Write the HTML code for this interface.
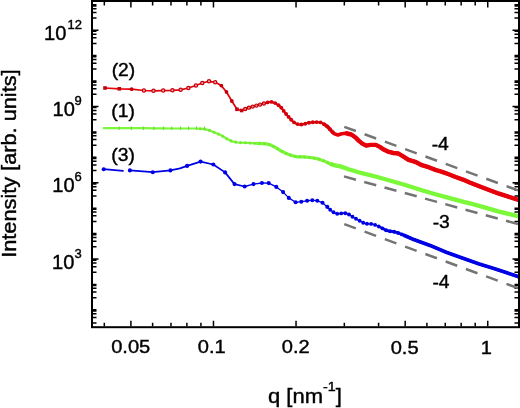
<!DOCTYPE html>
<html><head><meta charset="utf-8"><style>html,body{margin:0;padding:0;background:#fff;overflow:hidden}svg{display:block;filter:blur(0.3px)}</style></head>
<body>
<svg width="520" height="408" viewBox="0 0 520 408">
<defs><clipPath id="clip"><rect x="93" y="2" width="425" height="324.2"/></clipPath></defs>
<rect width="520" height="408" fill="#fff"/>
<rect x="92" y="1" width="427" height="326.2" fill="none" stroke="#000" stroke-width="2"/>
<path d="M130.90 326.2v-5.5M130.90 2v5.5M213.47 326.2v-5.5M213.47 2v5.5M296.04 326.2v-5.5M296.04 2v5.5M405.18 326.2v-5.5M405.18 2v5.5M487.75 326.2v-5.5M487.75 2v5.5M104.32 326.2v-3.5M104.32 2v3.5M152.62 326.2v-3.5M152.62 2v3.5M170.98 326.2v-3.5M170.98 2v3.5M186.89 326.2v-3.5M186.89 2v3.5M200.92 326.2v-3.5M200.92 2v3.5M344.33 326.2v-3.5M344.33 2v3.5M378.60 326.2v-3.5M378.60 2v3.5M426.90 326.2v-3.5M426.90 2v3.5M445.26 326.2v-3.5M445.26 2v3.5M461.17 326.2v-3.5M461.17 2v3.5M475.20 326.2v-3.5M475.20 2v3.5" stroke="#000" stroke-width="1.5" fill="none"/>
<path d="M93 323.11h3.5M518 323.11h-3.5M93 317.47h3.5M518 317.47h-3.5M93 313.76h3.5M518 313.76h-3.5M93 310.98h3.5M518 310.98h-3.5M93 309.82h3.5M518 309.82h-3.5M93 297.69h3.5M518 297.69h-3.5M93 292.05h3.5M518 292.05h-3.5M93 288.34h3.5M518 288.34h-3.5M93 285.56h3.5M518 285.56h-3.5M93 284.40h3.5M518 284.40h-3.5M93 272.27h3.5M518 272.27h-3.5M93 266.63h3.5M518 266.63h-3.5M93 262.92h3.5M518 262.92h-3.5M93 260.14h3.5M518 260.14h-3.5M93 258.98h5.5M518 258.98h-5.5M93 246.85h3.5M518 246.85h-3.5M93 241.21h3.5M518 241.21h-3.5M93 237.50h3.5M518 237.50h-3.5M93 234.72h3.5M518 234.72h-3.5M93 233.56h3.5M518 233.56h-3.5M93 221.43h3.5M518 221.43h-3.5M93 215.79h3.5M518 215.79h-3.5M93 212.08h3.5M518 212.08h-3.5M93 209.30h3.5M518 209.30h-3.5M93 208.14h3.5M518 208.14h-3.5M93 196.01h3.5M518 196.01h-3.5M93 190.37h3.5M518 190.37h-3.5M93 186.66h3.5M518 186.66h-3.5M93 183.88h3.5M518 183.88h-3.5M93 182.72h5.5M518 182.72h-5.5M93 170.59h3.5M518 170.59h-3.5M93 164.95h3.5M518 164.95h-3.5M93 161.24h3.5M518 161.24h-3.5M93 158.46h3.5M518 158.46h-3.5M93 157.30h3.5M518 157.30h-3.5M93 145.17h3.5M518 145.17h-3.5M93 139.53h3.5M518 139.53h-3.5M93 135.82h3.5M518 135.82h-3.5M93 133.04h3.5M518 133.04h-3.5M93 131.88h3.5M518 131.88h-3.5M93 119.75h3.5M518 119.75h-3.5M93 114.11h3.5M518 114.11h-3.5M93 110.40h3.5M518 110.40h-3.5M93 107.62h3.5M518 107.62h-3.5M93 106.46h5.5M518 106.46h-5.5M93 94.33h3.5M518 94.33h-3.5M93 88.69h3.5M518 88.69h-3.5M93 84.98h3.5M518 84.98h-3.5M93 82.20h3.5M518 82.20h-3.5M93 81.04h3.5M518 81.04h-3.5M93 68.91h3.5M518 68.91h-3.5M93 63.27h3.5M518 63.27h-3.5M93 59.56h3.5M518 59.56h-3.5M93 56.78h3.5M518 56.78h-3.5M93 55.62h3.5M518 55.62h-3.5M93 43.49h3.5M518 43.49h-3.5M93 37.85h3.5M518 37.85h-3.5M93 34.14h3.5M518 34.14h-3.5M93 31.36h3.5M518 31.36h-3.5M93 30.20h5.5M518 30.20h-5.5M93 18.07h3.5M518 18.07h-3.5M93 12.43h3.5M518 12.43h-3.5M93 8.72h3.5M518 8.72h-3.5M93 5.94h3.5M518 5.94h-3.5M93 4.78h3.5M518 4.78h-3.5" stroke="#000" stroke-width="1.5" fill="none"/>
<g clip-path="url(#clip)">
<line x1="344.3" y1="126.80" x2="530" y2="194.77" stroke="#747474" stroke-width="2.5" stroke-dasharray="12.3 9.3"/>
<line x1="344.0" y1="176.40" x2="530" y2="227.36" stroke="#747474" stroke-width="2.5" stroke-dasharray="12.4 8.6"/>
<line x1="344.3" y1="224.20" x2="530" y2="292.54" stroke="#747474" stroke-width="2.5" stroke-dasharray="12.3 9.3"/>
</g>
<g clip-path="url(#clip)" fill="none" stroke-linejoin="round" stroke-linecap="round">
<path d="M105.0 88.0L119.3 88.8L131.6 89.2L143.9 90.5L153.5 90.8L163.2 90.6L172.4 90.3L180.6 89.8L188.4 88.0L195.9 85.5L202.3 83.0L209.0 81.3L215.2 82.3L221.3 85.6L226.5 92.0L231.8 101.0L237.0 109.3L241.6 110.5L246.8 108.3L251.4 106.9L256.5 105.6L259.5 104.8L263.7 103.5L267.8 102.4L271.2 101.8L275.2 103.1L279.0 105.5L282.3 108.8L285.3 113.1L288.6 116.9L292.0 120.7L295.4 123.4L299.4 124.7L303.5 124.3L307.5 123.0L311.5 122.3L316.3 122.1L320.6 122.4L324.4 124.4L328.3 127.3L331.2 130.7L334.0 133.6L337.9 135.0L341.7 133.8L346.5 133.3L351.3 134.5L355.6 137.5L358.9 140.9L362.3 143.6L366.3 145.6L370.4 144.9L375.8 144.9L379.8 146.9L383.8 149.6L387.9 151.6L393.3 153.0L398.4 153.5L403.1 156.4L408.5 159.8L415.2 161.8L421.9 165.2L428.6 167.2L435.4 169.9L442.1 171.9L448.8 174.3L455.6 177.0L463.6 179.8L469.7 182.5L484.4 188.2L499.1 193.7L516.0 199.1L522.0 201.0" stroke="#e6000a" stroke-width="1.7"/>
<path d="M246.8 108.3L251.4 106.9L256.5 105.6L259.5 104.8L263.7 103.5L267.8 102.4L271.2 101.8L275.2 103.1L279.0 105.5L282.3 108.8L285.3 113.1L288.6 116.9L292.0 120.7L295.4 123.4L299.4 124.7L303.5 124.3L307.5 123.0L311.5 122.3L316.3 122.1L320.6 122.4L324.4 124.4L328.3 127.3L331.2 130.7L334.0 133.6L337.9 135.0L341.7 133.8L346.5 133.3L351.3 134.5L355.6 137.5L358.9 140.9L362.3 143.6L366.3 145.6L370.4 144.9L375.8 144.9L379.8 146.9L383.8 149.6L387.9 151.6L393.3 153.0L398.4 153.5L403.1 156.4L408.5 159.8L415.2 161.8L421.9 165.2L428.6 167.2L435.4 169.9L442.1 171.9L448.8 174.3L455.6 177.0L463.6 179.8L469.7 182.5L484.4 188.2L499.1 193.7L516.0 199.1L522.0 201.0" stroke="#e6000a" stroke-width="1.8"/>
<path d="M324.4 124.4L328.3 127.3L331.2 130.7L334.0 133.6L337.9 135.0L341.7 133.8L346.5 133.3L351.3 134.5L355.6 137.5L358.9 140.9L362.3 143.6L366.3 145.6L370.4 144.9L375.8 144.9L379.8 146.9L383.8 149.6L387.9 151.6L393.3 153.0L398.4 153.5L403.1 156.4L408.5 159.8L415.2 161.8L421.9 165.2L428.6 167.2L435.4 169.9L442.1 171.9L448.8 174.3L455.6 177.0L463.6 179.8L469.7 182.5L484.4 188.2L499.1 193.7L516.0 199.1L522.0 201.0" stroke="#e6000a" stroke-width="3.6"/>
<path d="M346.5 133.3L351.3 134.5L355.6 137.5L358.9 140.9L362.3 143.6L366.3 145.6L370.4 144.9L375.8 144.9L379.8 146.9L383.8 149.6L387.9 151.6L393.3 153.0L398.4 153.5L403.1 156.4L408.5 159.8L415.2 161.8L421.9 165.2L428.6 167.2L435.4 169.9L442.1 171.9L448.8 174.3L455.6 177.0L463.6 179.8L469.7 182.5L484.4 188.2L499.1 193.7L516.0 199.1L522.0 201.0" stroke="#e6000a" stroke-width="4.4"/>
<path d="M103.8 128.2L119.5 128.2L132.2 128.2L144.0 128.2L154.4 128.3L163.6 128.4L172.4 128.5L181.2 128.5L189.1 128.5L195.4 128.5L203.1 128.8L209.8 130.4L216.5 133.3L221.3 135.2L227.1 139.0L231.9 141.3L237.7 142.5L247.3 142.9L256.9 143.3L266.5 143.8L270.0 144.7L275.4 147.4L280.8 150.8L286.2 153.5L291.5 155.5L296.9 156.8L303.6 156.9L310.4 157.5L317.1 158.6L323.8 160.9L330.6 164.0L336.0 165.6L340.4 166.4L348.5 169.2L361.9 173.2L375.4 176.5L388.8 180.2L403.6 184.5L421.9 190.3L435.4 194.2L448.8 197.8L463.6 201.8L469.7 203.3L484.4 207.4L499.1 211.6L516.0 215.7L522.0 217.3" stroke="#7cf83a" stroke-width="2.2"/>
<path d="M256.9 143.3L266.5 143.8L270.0 144.7L275.4 147.4L280.8 150.8L286.2 153.5L291.5 155.5L296.9 156.8L303.6 156.9L310.4 157.5L317.1 158.6L323.8 160.9L330.6 164.0L336.0 165.6L340.4 166.4L348.5 169.2L361.9 173.2L375.4 176.5L388.8 180.2L403.6 184.5L421.9 190.3L435.4 194.2L448.8 197.8L463.6 201.8L469.7 203.3L484.4 207.4L499.1 211.6L516.0 215.7L522.0 217.3" stroke="#7cf83a" stroke-width="3.2"/>
<path d="M330.6 164.0L336.0 165.6L340.4 166.4L348.5 169.2L361.9 173.2L375.4 176.5L388.8 180.2L403.6 184.5L421.9 190.3L435.4 194.2L448.8 197.8L463.6 201.8L469.7 203.3L484.4 207.4L499.1 211.6L516.0 215.7L522.0 217.3" stroke="#7cf83a" stroke-width="4.3"/>
<path d="M103.7 169.2L123.0 170.9M129.9 170.4L152.8 172.2L170.4 170.4L180.0 168.4L187.1 165.9L200.6 161.6L213.3 164.5L225.1 172.4L234.5 184.1L244.7 186.5" stroke="#0000e4" stroke-width="1.7"/>
<path d="M244.7 186.5L253.5 184.1L261.9 183.0L268.7 183.1L276.3 186.9L283.1 192.1L288.8 197.9L295.6 202.3L301.3 201.7L307.1 200.8L312.3 200.2L317.3 200.8L322.5 202.7L327.3 206.9L331.3 210.8L336.1 213.7L339.4 213.9L343.5 212.9L347.5 213.5L351.5 216.1L354.9 218.2L358.3 220.2L362.3 222.2L365.7 223.9L369.0 223.6L373.1 224.2L377.1 225.6L381.1 227.6L385.2 229.9L389.2 231.2L393.3 231.6L397.3 232.6" stroke="#0000e4" stroke-width="1.3"/>
<path d="M381.1 227.6L385.2 229.9L389.2 231.2L393.3 231.6L397.3 232.6L404.5 235.5L413.8 239.6L430.0 245.4L446.2 252.3L462.3 258.1L478.5 263.8L492.3 268.0L506.2 272.6L522.0 277.8" stroke="#0000e4" stroke-width="2.8"/>
<path d="M404.5 235.5L413.8 239.6L430.0 245.4L446.2 252.3L462.3 258.1L478.5 263.8L492.3 268.0L506.2 272.6L522.0 277.8" stroke="#0000e4" stroke-width="3.7"/>
</g>
<rect x="103.2" y="86.2" width="3.6" height="3.6" fill="#c4000a"/><rect x="117.5" y="87.0" width="3.6" height="3.6" fill="#c4000a"/><circle cx="131.6" cy="89.2" r="1.9" fill="#c4000a"/><circle cx="143.9" cy="90.5" r="1.65" fill="#f4a8a8" stroke="#c4000a" stroke-width="1.2"/><circle cx="153.5" cy="90.8" r="1.65" fill="#f4a8a8" stroke="#c4000a" stroke-width="1.2"/><circle cx="163.2" cy="90.6" r="1.65" fill="#f4a8a8" stroke="#c4000a" stroke-width="1.2"/><circle cx="172.4" cy="90.3" r="1.65" fill="#f4a8a8" stroke="#c4000a" stroke-width="1.2"/><circle cx="180.6" cy="89.8" r="1.65" fill="#f4a8a8" stroke="#c4000a" stroke-width="1.2"/><circle cx="188.4" cy="88" r="1.65" fill="#f4a8a8" stroke="#c4000a" stroke-width="1.2"/><circle cx="195.9" cy="85.5" r="1.65" fill="#f4a8a8" stroke="#c4000a" stroke-width="1.2"/><circle cx="202.3" cy="83" r="1.65" fill="#f4a8a8" stroke="#c4000a" stroke-width="1.2"/><circle cx="209" cy="81.3" r="1.65" fill="#f4a8a8" stroke="#c4000a" stroke-width="1.2"/><circle cx="215.2" cy="82.3" r="1.65" fill="#f4a8a8" stroke="#c4000a" stroke-width="1.2"/><circle cx="221.3" cy="85.6" r="1.9" fill="#c4000a"/><circle cx="226.5" cy="92" r="1.9" fill="#c4000a"/><circle cx="231.8" cy="101" r="1.9" fill="#c4000a"/><rect x="235.2" y="107.5" width="3.6" height="3.6" fill="#c4000a"/><rect x="239.79999999999998" y="108.7" width="3.6" height="3.6" fill="#c4000a"/><circle cx="245.2" cy="109.0" r="1.6" fill="#f08080" stroke="#c4000a" stroke-width="1.15"/><circle cx="248.9" cy="107.7" r="1.6" fill="#f08080" stroke="#c4000a" stroke-width="1.15"/><circle cx="252.6" cy="106.6" r="1.6" fill="#f08080" stroke="#c4000a" stroke-width="1.15"/><circle cx="256.4" cy="105.6" r="1.6" fill="#f08080" stroke="#c4000a" stroke-width="1.15"/><circle cx="260.1" cy="104.6" r="1.6" fill="#f08080" stroke="#c4000a" stroke-width="1.15"/><circle cx="263.9" cy="103.5" r="1.6" fill="#f08080" stroke="#c4000a" stroke-width="1.15"/><circle cx="267.6" cy="102.4" r="1.95" fill="#d4000a"/><circle cx="271.5" cy="101.9" r="1.95" fill="#d4000a"/><circle cx="275.2" cy="103.1" r="1.95" fill="#d4000a"/><circle cx="278.5" cy="105.2" r="1.95" fill="#d4000a"/><circle cx="281.3" cy="107.8" r="1.95" fill="#d4000a"/><circle cx="283.7" cy="110.9" r="1.95" fill="#d4000a"/><circle cx="286.1" cy="114.0" r="1.95" fill="#d4000a"/><circle cx="288.6" cy="116.9" r="1.95" fill="#d4000a"/><circle cx="291.2" cy="119.8" r="1.95" fill="#d4000a"/><circle cx="294.1" cy="122.4" r="1.95" fill="#d4000a"/><circle cx="297.6" cy="124.1" r="1.95" fill="#d4000a"/><circle cx="301.4" cy="124.5" r="1.95" fill="#d4000a"/><circle cx="305.2" cy="123.8" r="1.95" fill="#d4000a"/><circle cx="308.9" cy="122.7" r="1.95" fill="#d4000a"/><circle cx="312.8" cy="122.2" r="1.95" fill="#d4000a"/><circle cx="316.7" cy="122.1" r="1.95" fill="#d4000a"/><circle cx="320.6" cy="122.4" r="1.95" fill="#d4000a"/><circle cx="324.0" cy="124.2" r="1.95" fill="#d4000a"/><circle cx="327.2" cy="126.5" r="1.95" fill="#d4000a"/><circle cx="329.9" cy="129.2" r="1.95" fill="#d4000a"/><circle cx="332.6" cy="132.1" r="1.95" fill="#d4000a"/><circle cx="103.7" cy="169.2" r="2.05" fill="#0000e4"/><circle cx="129.9" cy="170.4" r="2.05" fill="#0000e4"/><circle cx="152.8" cy="172.2" r="2.05" fill="#0000e4"/><circle cx="170.4" cy="170.4" r="2.05" fill="#0000e4"/><circle cx="187.1" cy="165.9" r="2.05" fill="#0000e4"/><circle cx="200.6" cy="161.6" r="2.05" fill="#0000e4"/><circle cx="213.3" cy="164.5" r="2.05" fill="#0000e4"/><circle cx="225.1" cy="172.4" r="2.05" fill="#0000e4"/><circle cx="234.5" cy="184.1" r="2.05" fill="#0000e4"/><circle cx="244.7" cy="186.5" r="2.05" fill="#0000e4"/><circle cx="253.5" cy="184.1" r="2.05" fill="#0000e4"/><circle cx="261.9" cy="183" r="2.05" fill="#0000e4"/><circle cx="268.7" cy="183.1" r="2.05" fill="#0000e4"/><circle cx="276.3" cy="186.9" r="2.05" fill="#0000e4"/><circle cx="283.1" cy="192.1" r="2.05" fill="#0000e4"/><circle cx="288.8" cy="197.9" r="2.05" fill="#0000e4"/><circle cx="295.6" cy="202.3" r="2.05" fill="#0000e4"/><circle cx="301.3" cy="201.7" r="2.05" fill="#0000e4"/><circle cx="307.1" cy="200.8" r="2.05" fill="#0000e4"/><circle cx="312.3" cy="200.2" r="2.05" fill="#0000e4"/><circle cx="317.3" cy="200.8" r="2.05" fill="#0000e4"/><circle cx="322.5" cy="202.7" r="2.05" fill="#0000e4"/><circle cx="327.3" cy="206.9" r="2.05" fill="#0000e4"/><circle cx="330.2" cy="209.8" r="1.95" fill="#0000e4"/><circle cx="333.5" cy="212.2" r="1.95" fill="#0000e4"/><circle cx="337.2" cy="213.8" r="1.95" fill="#0000e4"/><circle cx="341.2" cy="213.4" r="1.95" fill="#0000e4"/><circle cx="345.3" cy="213.2" r="1.95" fill="#0000e4"/><circle cx="349.0" cy="214.5" r="1.95" fill="#0000e4"/><circle cx="352.5" cy="216.7" r="1.95" fill="#0000e4"/><circle cx="356.0" cy="218.8" r="1.95" fill="#0000e4"/><circle cx="359.6" cy="220.8" r="1.95" fill="#0000e4"/><circle cx="363.2" cy="222.7" r="1.95" fill="#0000e4"/><circle cx="367.0" cy="223.8" r="1.95" fill="#0000e4"/><circle cx="371.1" cy="223.9" r="1.95" fill="#0000e4"/><circle cx="375.1" cy="224.9" r="1.95" fill="#0000e4"/><circle cx="378.8" cy="226.5" r="1.95" fill="#0000e4"/><circle cx="382.5" cy="228.4" r="1.95" fill="#0000e4"/><circle cx="386.1" cy="230.2" r="1.95" fill="#0000e4"/><circle cx="390.1" cy="231.3" r="1.95" fill="#0000e4"/><circle cx="394.1" cy="231.8" r="1.95" fill="#0000e4"/><circle cx="398.1" cy="232.9" r="1.95" fill="#0000e4"/><circle cx="401.9" cy="234.4" r="1.95" fill="#0000e4"/><circle cx="200.2" cy="128.7" r="1.55" fill="#74ec34"/><circle cx="204.9" cy="129.2" r="1.55" fill="#74ec34"/><circle cx="209.6" cy="130.4" r="1.55" fill="#74ec34"/><circle cx="214.0" cy="132.2" r="1.55" fill="#74ec34"/><circle cx="218.5" cy="134.1" r="1.55" fill="#74ec34"/><circle cx="222.8" cy="136.2" r="1.55" fill="#74ec34"/><circle cx="226.8" cy="138.8" r="1.55" fill="#74ec34"/><circle cx="231.1" cy="140.9" r="1.55" fill="#74ec34"/><circle cx="235.7" cy="142.1" r="1.55" fill="#74ec34"/><circle cx="240.5" cy="142.6" r="1.55" fill="#74ec34"/><circle cx="245.3" cy="142.8" r="1.55" fill="#74ec34"/><circle cx="250.1" cy="143.0" r="1.55" fill="#74ec34"/><circle cx="254.8" cy="143.2" r="1.55" fill="#74ec34"/><circle cx="259.6" cy="143.4" r="1.55" fill="#74ec34"/><circle cx="264.4" cy="143.7" r="1.55" fill="#74ec34"/><circle cx="269.1" cy="144.5" r="1.55" fill="#74ec34"/><circle cx="273.5" cy="146.5" r="1.55" fill="#74ec34"/><circle cx="277.7" cy="148.8" r="1.55" fill="#74ec34"/><circle cx="281.8" cy="151.3" r="1.55" fill="#74ec34"/><circle cx="286.1" cy="153.4" r="1.55" fill="#74ec34"/><circle cx="290.6" cy="155.1" r="1.55" fill="#74ec34"/><circle cx="295.2" cy="156.4" r="1.55" fill="#74ec34"/><circle cx="299.9" cy="156.8" r="1.55" fill="#74ec34"/><circle cx="304.7" cy="157.0" r="1.55" fill="#74ec34"/><circle cx="309.5" cy="157.4" r="1.55" fill="#74ec34"/><circle cx="314.3" cy="158.1" r="1.55" fill="#74ec34"/><circle cx="318.9" cy="159.2" r="1.55" fill="#74ec34"/><circle cx="323.5" cy="160.8" r="1.55" fill="#74ec34"/><circle cx="327.8" cy="162.7" r="1.55" fill="#74ec34"/><circle cx="332.3" cy="164.5" r="1.55" fill="#74ec34"/><path d="M119.1 126.4v3.6M131.4 126.4v3.6M143.3 126.4v3.6M153.8 126.4v3.6M163.5 126.4v3.6M171.7 126.4v3.6M180.5 126.4v3.6M188.6 126.4v3.6M196.5 126.4v3.6M204.5 126.4v3.6" stroke="#70dc40" stroke-width="1.2"/>
<text x="100" y="100" font-size="19.5" transform="matrix(1.03 0 0 1.0 -58.94 -60.15)" font-family="Liberation Sans, sans-serif" stroke="#000" stroke-width="0.4">10</text>
<text x="100" y="100" font-size="13" transform="matrix(1.0 0 0 1.0 -32.60 -70.95)" font-family="Liberation Sans, sans-serif" stroke="#000" stroke-width="0.4">12</text>
<text x="100" y="100" font-size="19.5" transform="matrix(1.03 0 0 1.0 -50.50 15.75)" font-family="Liberation Sans, sans-serif" stroke="#000" stroke-width="0.4">10</text>
<text x="100" y="100" font-size="13" transform="matrix(1.0 0 0 1.0 -25.45 4.95)" font-family="Liberation Sans, sans-serif" stroke="#000" stroke-width="0.4">9</text>
<text x="100" y="100" font-size="19.5" transform="matrix(1.03 0 0 1.0 -50.69 92.35)" font-family="Liberation Sans, sans-serif" stroke="#000" stroke-width="0.4">10</text>
<text x="100" y="100" font-size="13" transform="matrix(1.0 0 0 1.0 -25.60 81.25)" font-family="Liberation Sans, sans-serif" stroke="#000" stroke-width="0.4">6</text>
<text x="100" y="100" font-size="19.5" transform="matrix(1.03 0 0 1.0 -50.89 168.80)" font-family="Liberation Sans, sans-serif" stroke="#000" stroke-width="0.4">10</text>
<text x="100" y="100" font-size="13" transform="matrix(1.0 0 0 1.0 -25.60 158.30)" font-family="Liberation Sans, sans-serif" stroke="#000" stroke-width="0.4">3</text>
<text x="100" y="100" font-size="19.5" transform="matrix(1.03 0 0 0.985 8.18 254.69)" font-family="Liberation Sans, sans-serif" stroke="#000" stroke-width="0.4">0.05</text>
<text x="100" y="100" font-size="19.5" transform="matrix(1.03 0 0 0.985 94.79 254.94)" font-family="Liberation Sans, sans-serif" stroke="#000" stroke-width="0.4">0.1</text>
<text x="100" y="100" font-size="19.5" transform="matrix(1.03 0 0 0.985 178.80 254.94)" font-family="Liberation Sans, sans-serif" stroke="#000" stroke-width="0.4">0.2</text>
<text x="100" y="100" font-size="19.5" transform="matrix(1.03 0 0 0.985 287.72 255.14)" font-family="Liberation Sans, sans-serif" stroke="#000" stroke-width="0.4">0.5</text>
<text x="100" y="100" font-size="19.5" transform="matrix(1.03 0 0 0.985 377.69 255.14)" font-family="Liberation Sans, sans-serif" stroke="#000" stroke-width="0.4">1</text>
<text x="100" y="100" font-size="18" transform="matrix(1.07 0 0 1.0 4.68 -24.25)" font-family="Liberation Sans, sans-serif" stroke="#000" stroke-width="0.4">(2)</text>
<text x="100" y="100" font-size="18" transform="matrix(1.07 0 0 1.0 4.28 17.05)" font-family="Liberation Sans, sans-serif" stroke="#000" stroke-width="0.4">(1)</text>
<text x="100" y="100" font-size="18" transform="matrix(1.07 0 0 1.0 4.28 60.70)" font-family="Liberation Sans, sans-serif" stroke="#000" stroke-width="0.4">(3)</text>
<text x="100" y="100" font-size="18" transform="matrix(1.07 0 0 1.0 324.70 50.05)" font-family="Liberation Sans, sans-serif" stroke="#000" stroke-width="0.4"><tspan dy="1.4">-</tspan><tspan dy="-1.4">4</tspan></text>
<text x="100" y="100" font-size="18" transform="matrix(1.07 0 0 1.0 325.64 127.95)" font-family="Liberation Sans, sans-serif" stroke="#000" stroke-width="0.4"><tspan dy="1.4">-</tspan><tspan dy="-1.4">3</tspan></text>
<text x="100" y="100" font-size="18" transform="matrix(1.07 0 0 1.0 325.45 187.90)" font-family="Liberation Sans, sans-serif" stroke="#000" stroke-width="0.4"><tspan dy="1.4">-</tspan><tspan dy="-1.4">4</tspan></text>
<text transform="translate(15.6,163.6) rotate(-90) scale(1.115,1)" font-size="19.5" text-anchor="middle" font-family="Liberation Sans, sans-serif" stroke="#000" stroke-width="0.4">Intensity [arb. units]</text>
<text transform="translate(268.0,402.8) scale(1.1,1)" x="0" y="0" font-size="20" font-family="Liberation Sans, sans-serif" stroke="#000" stroke-width="0.4">q [nm<tspan font-size="13" dy="-12">-1</tspan><tspan dy="12">]</tspan></text>
</svg>
</body></html>
